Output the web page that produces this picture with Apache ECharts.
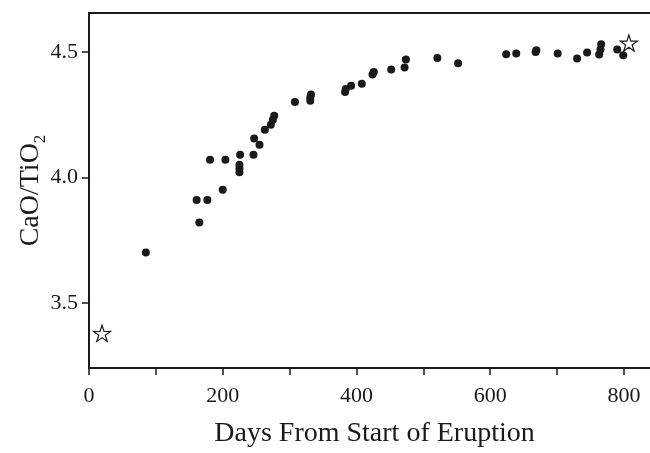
<!DOCTYPE html>
<html>
<head>
<meta charset="utf-8">
<script src="https://cdn.jsdelivr.net/npm/echarts@6/dist/echarts.min.js"></script>
<style>
  html, body { margin: 0; padding: 0; background: #fff; }
  #main { width: 650px; height: 453px; }
</style>
</head>
<body>
<div id="main"></div>
<script>
// sample days and CaO/TiO2 ratios (filled dots)
var dayValues = [85, 161, 165, 177, 181, 200, 204, 225, 225, 225, 226, 246, 247, 255, 263, 272, 275, 277,
  308, 331, 331, 332, 383, 384, 392, 408, 424, 426, 452, 472, 474, 521, 552, 624, 639, 668, 669, 701,
  730, 745, 763, 765, 766, 790, 799];
var ratioValues = [3.70, 3.91, 3.82, 3.91, 4.07, 3.95, 4.07, 4.02, 4.035, 4.05, 4.09, 4.09, 4.155, 4.13, 4.19, 4.21, 4.23, 4.245,
  4.30, 4.305, 4.318, 4.33, 4.34, 4.352, 4.365, 4.373, 4.41, 4.42, 4.43, 4.438, 4.47, 4.476, 4.455, 4.491, 4.494, 4.50, 4.507, 4.494,
  4.474, 4.498, 4.49, 4.51, 4.53, 4.51, 4.487];
// open stars
var starDays = [19.5, 807.5];
var starRatios = [3.378, 4.535];

var xTicks = [0, 100, 200, 300, 400, 500, 600, 700, 800];
var xLabels = [0, 200, 400, 600, 800];
var yTicks = [3.5, 4.0, 4.5];

var starPath = 'path://M50 0 L61.17 34.63 L97.55 34.55 L68.07 55.87 L79.39 90.45 L50 69 L20.61 90.45 L31.93 55.87 L2.45 34.55 L38.83 34.63 Z';

var font = 'Liberation Serif';
var ink = '#1a1a1a';

var dots = dayValues.map(function (d, i) { return [d, ratioValues[i]]; });
var stars = starDays.map(function (d, i) { return [d, starRatios[i]]; });

var chart = echarts.init(document.getElementById('main'));
chart.setOption({
  animation: false,
  grid: {
    left: 89, right: -10, top: 13, bottom: 85,
    outerBoundsMode: 'none',
    containLabel: false,
    show: true, borderColor: ink, borderWidth: 2
  },
  xAxis: {
    type: 'value',
    min: 0, max: 854,
    name: 'Days From Start of Eruption',
    nameLocation: 'middle',
    nameGap: 52,
    nameMoveOverlap: false,
    nameTextStyle: { fontFamily: font, fontSize: 28, color: ink },
    splitLine: { show: false },
    axisLine: { lineStyle: { color: ink, width: 2 } },
    axisTick: { customValues: xTicks, length: 7, lineStyle: { color: ink, width: 1.5 } },
    axisLabel: {
      customValues: xLabels,
      margin: 17,
      fontFamily: font, fontSize: 22, color: ink
    }
  },
  yAxis: {
    type: 'value',
    min: 3.24, max: 4.655,
    name: 'CaO/TiO{sub|2}',
    nameLocation: 'middle',
    nameGap: 58,
    nameMoveOverlap: false,
    nameRotate: 90,
    nameTextStyle: {
      fontFamily: font, fontSize: 28, color: ink,
      lineHeight: 36, verticalAlign: 'middle',
      rich: {
        sub: { fontFamily: font, fontSize: 17, color: ink, lineHeight: 17, verticalAlign: 'bottom' }
      }
    },
    splitLine: { show: false },
    axisLine: { lineStyle: { color: ink, width: 2 } },
    axisTick: { customValues: yTicks, length: 7, lineStyle: { color: ink, width: 1.5 } },
    axisLabel: {
      customValues: yTicks,
      margin: 11,
      fontFamily: font, fontSize: 22, color: ink,
      formatter: function (v) { return v.toFixed(1); }
    }
  },
  series: [
    {
      type: 'scatter',
      data: dots,
      symbol: 'circle',
      symbolSize: 8,
      itemStyle: { color: ink, opacity: 1 }
    },
    {
      type: 'scatter',
      data: stars,
      symbol: starPath,
      symbolKeepAspect: true,
      symbolSize: 17,
      itemStyle: { color: '#fff', borderColor: ink, borderWidth: 1.2, opacity: 1 }
    }
  ]
});
</script>
</body>
</html>
